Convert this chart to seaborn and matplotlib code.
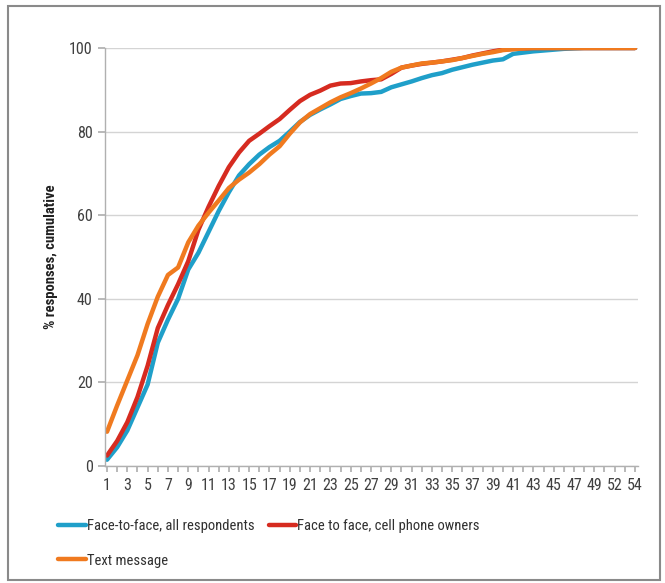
import numpy as np
import pandas as pd
import seaborn as sns
import matplotlib.pyplot as plt
from matplotlib.patches import Rectangle
from matplotlib import font_manager

# ---- data ----
categories = list(range(1, 51)) + [52, 53, 54]

face_all = [1.5, 4.5, 8.5, 14.0, 19.5, 29.5, 35.0, 40.0, 47.0, 51.0,
            56.0, 61.0, 65.5, 69.5, 72.2, 74.5, 76.3, 77.8, 80.0, 82.3,
            84.0, 85.3, 86.5, 87.8, 88.5, 89.1, 89.2, 89.5, 90.6, 91.3,
            92.0, 92.8, 93.5, 94.0, 94.8, 95.4, 96.0, 96.5, 97.0, 97.3,
            98.6, 98.9, 99.2, 99.4, 99.6, 99.8, 99.9, 100.0, 100.0, 100.0,
            100.0, 100.0, 100.0]

face_cell = [2.5, 6.0, 10.5, 16.5, 24.0, 33.0, 38.5, 43.5, 49.0, 56.5,
             62.0, 67.0, 71.5, 75.0, 77.8, 79.5, 81.3, 83.0, 85.2, 87.3,
             88.8, 89.8, 91.0, 91.5, 91.6, 92.0, 92.3, 92.5, 93.8, 95.3,
             95.8, 96.2, 96.5, 96.8, 97.2, 97.6, 98.2, 98.7, 99.2, 99.6,
             99.8, 99.9, 100.0, 100.0, 100.0, 100.0, 100.0, 100.0, 100.0, 100.0,
             100.0, 100.0, 100.0]

text_msg = [8.2, 14.5, 20.5, 26.5, 34.0, 40.5, 45.7, 47.5, 53.5, 57.5,
            60.6, 63.5, 66.5, 68.5, 70.2, 72.2, 74.5, 76.5, 79.5, 82.2,
            84.2, 85.6, 87.0, 88.2, 89.2, 90.3, 91.5, 92.8, 94.3, 95.3,
            95.8, 96.3, 96.5, 96.8, 97.1, 97.6, 98.1, 98.6, 99.0, 99.5,
            99.7, 99.9, 100.0, 100.0, 100.0, 100.0, 100.0, 100.0, 100.0, 100.0,
            100.0, 100.0, 100.0]

series_names = ["Face-to-face, all respondents",
                "Face to face, cell phone owners",
                "Text message"]
y_ticks = [0, 20, 40, 60, 80, 100]
y_label = "% responses, cumulative"

colors = ["#1f9fc9", "#d62b20", "#f07a1f"]

# ---- long-form table ----
pos = np.arange(len(categories))
df = pd.concat([
    pd.DataFrame({"pos": pos, "value": vals, "series": name})
    for name, vals in zip(series_names, [face_all, face_cell, text_msg])
], ignore_index=True)

sns.set_theme(style="white")
avail = {f.name for f in font_manager.fontManager.ttflist}
cands = ["Liberation Sans Narrow", "Roboto Condensed", "Open Sans Condensed",
         "Noto Sans Condensed", "DejaVu Sans Condensed", "Liberation Sans"]
fam = [c for c in cands if c in avail][:1]
plt.rcParams["font.family"] = fam + ["DejaVu Sans"]

W, H = 665, 583
fig = plt.figure(figsize=(W / 100, H / 100), dpi=100)
ax = fig.add_axes([105 / W, 1 - 466 / H, (638 - 105) / W, (466 - 48) / H])

sns.lineplot(data=df, x="pos", y="value", hue="series", hue_order=series_names,
             palette=colors, linewidth=3.2, ax=ax, solid_capstyle="round",
             solid_joinstyle="round")

handles, labels = ax.get_legend_handles_labels()
ax.get_legend().remove()

ax.set_xlim(-0.2, 52.3)
ax.set_ylim(0, 100)
ax.set_yticks(y_ticks)
ax.set_yticklabels([str(v) for v in y_ticks], fontsize=11.5, color="#404040")
ax.set_xticks(pos)
ax.set_xticklabels([str(c) if i % 2 == 0 else "" for i, c in enumerate(categories)],
                   fontsize=11.5, color="#404040")
ax.set_xlabel("")
ax.set_ylabel(y_label, fontsize=10.5, fontweight="bold", color="#202020", labelpad=8)

ax.grid(axis="y", color="#d4d4d4", linewidth=1)
ax.grid(axis="x", visible=False)
ax.set_axisbelow(True)
for s in ["top", "right"]:
    ax.spines[s].set_visible(False)
for s in ["left", "bottom"]:
    ax.spines[s].set_color("#b0b0b0")
    ax.spines[s].set_linewidth(1)
ax.tick_params(axis="y", which="both", left=True, length=5, color="#b0b0b0", pad=4)
ax.tick_params(axis="x", which="both", bottom=True, length=4, color="#b0b0b0", pad=5)

# legend order: row 1 = all, cell; row 2 = text (matplotlib fills columns first)
order = [0, 2, 1]
leg = fig.legend([handles[i] for i in order], [labels[i] for i in order],
                 ncol=2, loc="upper left",
                 bbox_to_anchor=(45 / W, 1 - 506 / H), frameon=False,
                 handlelength=1.9, handletextpad=0.05, columnspacing=1.0,
                 labelspacing=1.4, fontsize=10.5)
for t in leg.get_texts():
    t.set_color("#303030")
for h in leg.get_lines():
    h.set_linewidth(3.2)

# outer frame
fig.patches.append(Rectangle((8 / W, 1 - 580 / H), (660 - 8) / W, (580 - 6) / H,
                             transform=fig.transFigure, fill=False,
                             edgecolor="#8a8a8a", linewidth=1.5))

fig.savefig("out.png", dpi=100)
